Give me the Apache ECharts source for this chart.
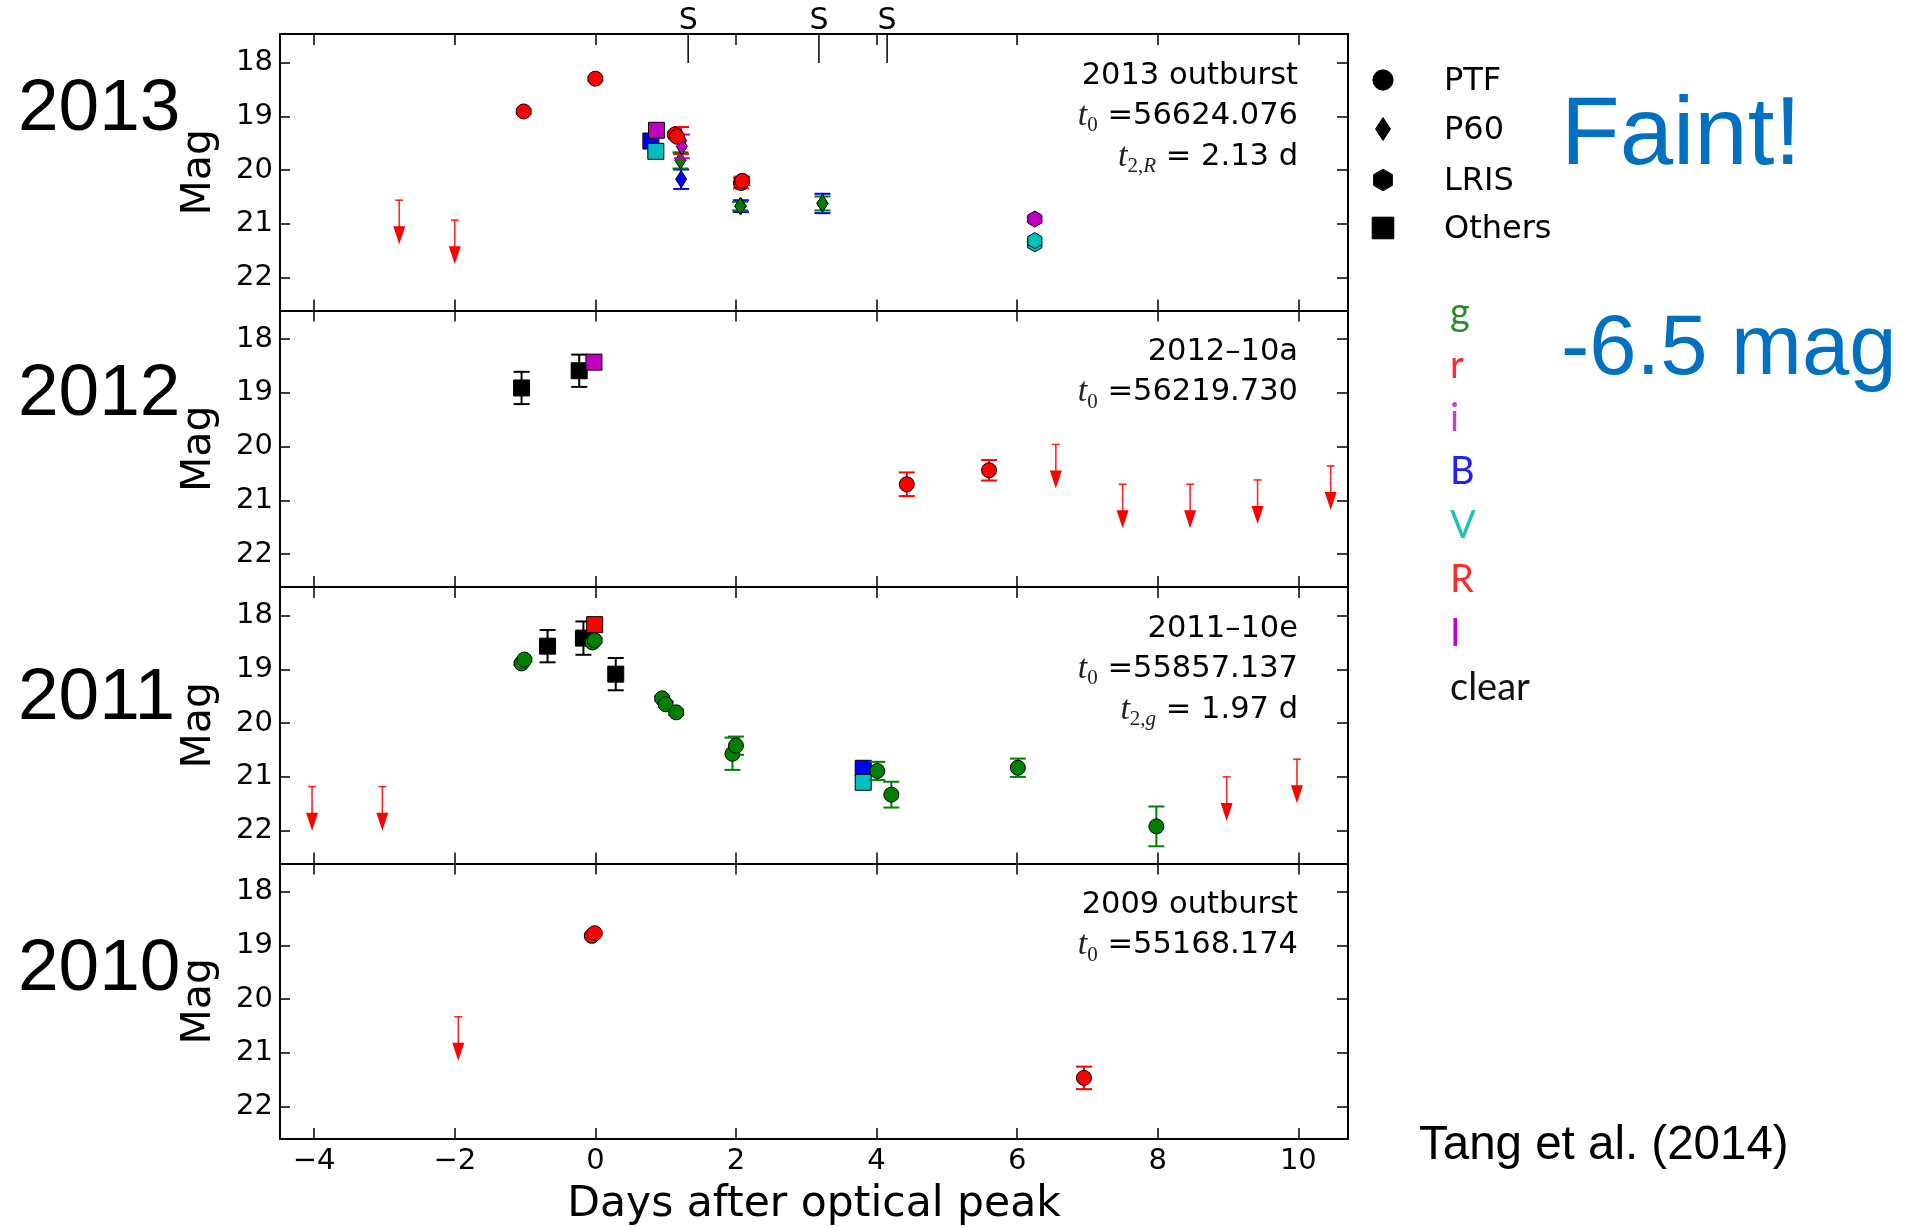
<!DOCTYPE html>
<html><head><meta charset="utf-8">
<script src="https://cdn.jsdelivr.net/npm/echarts@6/dist/echarts.min.js"></script>
<style>html,body{margin:0;padding:0;background:#fff}#c{width:1905px;height:1227px}</style>
</head><body><div id="c"></div>
<script>
// ---------------- data ----------------
const xTicks = [-4, -2, 0, 2, 4, 6, 8, 10];
const yTicks = [18, 19, 20, 21, 22];
const years = ['2013', '2012', '2011', '2010'];
const panelTitles = ['2013 outburst', '2012\u201310a', '2011\u201310e', '2009 outburst'];
const t0Values = ['56624.076', '56219.730', '55857.137', '55168.174'];
const t2Bands = ['R', null, 'g', null];
const t2Values = ['2.13', null, '1.97', null];
const sDays = [1.32, 3.18, 4.15];
const instruments = ['PTF', 'P60', 'LRIS', 'Others'];
const bandNames = ['g', 'r', 'i', 'B', 'V', 'R', 'I', 'clear'];

// [day, mag, err, band, instrument]
const pts2013 = [
  [-1.02, 18.91, 0.04, 'r', 'PTF'],
  [0.00, 18.30, 0.04, 'r', 'PTF'],
  [0.79, 19.46, 0.05, 'B', 'Others'],
  [0.86, 19.65, 0.05, 'V', 'Others'],
  [0.87, 19.26, 0.05, 'I', 'Others'],
  [1.22, 20.17, 0.18, 'B', 'P60'],
  [1.21, 19.82, 0.15, 'g', 'P60'],
  [1.22, 19.45, 0.25, 'R', 'P60'],
  [1.23, 19.56, 0.22, 'i', 'P60'],
  [1.13, 19.34, 0.04, 'r', 'PTF'],
  [1.16, 19.38, 0.04, 'r', 'PTF'],
  [2.07, 20.67, 0.11, 'B', 'P60'],
  [2.06, 20.67, 0.08, 'g', 'P60'],
  [2.07, 20.24, 0.10, 'r', 'PTF'],
  [2.09, 20.20, 0.08, 'r', 'PTF'],
  [3.23, 20.62, 0.18, 'B', 'P60'],
  [3.23, 20.62, 0.13, 'g', 'P60'],
  [6.25, 20.91, 0.03, 'i', 'LRIS'],
  [6.25, 21.37, 0.03, 'V', 'LRIS'],
  [6.25, 21.31, 0.03, 'V', 'LRIS']
];
const lim2013 = [[-2.79, 20.56], [-2.00, 20.93]];

const pts2012 = [
  [-1.05, 18.91, 0.30, 'clear', 'Others'],
  [-0.23, 18.59, 0.30, 'clear', 'Others'],
  [-0.02, 18.43, 0.00, 'I', 'Others'],
  [4.43, 20.70, 0.22, 'r', 'PTF'],
  [5.60, 20.44, 0.19, 'r', 'PTF']
];
const lim2012 = [[6.55, 19.96], [7.50, 20.70], [8.46, 20.70], [9.42, 20.62], [10.46, 20.36]];

const pts2011 = [
  [-1.05, 18.89, 0.03, 'g', 'PTF'],
  [-1.01, 18.82, 0.03, 'g', 'PTF'],
  [-0.68, 18.57, 0.30, 'clear', 'Others'],
  [-0.17, 18.42, 0.31, 'clear', 'Others'],
  [0.29, 19.09, 0.30, 'clear', 'Others'],
  [-0.01, 18.17, 0.04, 'R', 'Others'],
  [-0.04, 18.50, 0.04, 'g', 'PTF'],
  [-0.01, 18.46, 0.04, 'g', 'PTF'],
  [0.95, 19.54, 0.04, 'g', 'PTF'],
  [1.00, 19.65, 0.05, 'g', 'PTF'],
  [1.15, 19.80, 0.05, 'g', 'PTF'],
  [1.95, 20.57, 0.30, 'g', 'PTF'],
  [2.00, 20.42, 0.17, 'g', 'PTF'],
  [3.81, 20.84, 0.05, 'B', 'Others'],
  [3.81, 21.10, 0.05, 'V', 'Others'],
  [4.01, 20.89, 0.17, 'g', 'PTF'],
  [4.21, 21.33, 0.24, 'g', 'PTF'],
  [6.01, 20.83, 0.17, 'g', 'PTF'],
  [7.98, 21.92, 0.37, 'g', 'PTF']
];
const lim2011 = [[-4.03, 21.18], [-3.03, 21.18], [8.98, 21.00], [9.98, 20.67]];

const pts2009 = [
  [-0.05, 18.82, 0.03, 'r', 'PTF'],
  [-0.01, 18.77, 0.03, 'r', 'PTF'],
  [6.95, 21.47, 0.21, 'r', 'PTF']
];
const lim2009 = [[-1.95, 20.33]];

const panelPts = [pts2013, pts2012, pts2011, pts2009];
const panelLims = [lim2013, lim2012, lim2011, lim2009];

// ---------------- style ----------------
const X_MIN = -4.486, X_MAX = 10.706;
const Y_MIN = 17.47, Y_MAX = 22.61;
const LIM_LEN = 0.82;
const GRID_LEFT = 280, GRID_W = 1068, GRID_TOP = 34, GRID_H = 276.5;
const bandColor = { g: '#008000', r: '#ff0000', i: '#bf00bf', B: '#0000ff', V: '#00bfbf', R: '#ff0000', I: '#bf00bf', clear: '#000000' };
const labelColor = { g: '#2a8a2a', r: '#ff2a2a', i: '#c040d0', B: '#2020ff', V: '#20c0c0', R: '#ff2a2a', I: '#c000c0', clear: '#111111' };
const MPL = '"DejaVu Sans", sans-serif';
const ARIAL = '"Liberation Sans", Arial, sans-serif';

function markerEl(inst, cx, cy, fill, k) {
  k = k || 1;
  const style = { fill: fill, stroke: '#000', lineWidth: 1 };
  if (inst === 'PTF') return { type: 'circle', shape: { cx: cx, cy: cy, r: 7.5 * k }, style: style };
  if (inst === 'P60') return { type: 'polygon', shape: { points: [[cx, cy - 8.5 * k], [cx + 5.5 * k, cy], [cx, cy + 8.5 * k], [cx - 5.5 * k, cy]] }, style: style };
  if (inst === 'LRIS') {
    const p = [];
    for (let j = 0; j < 6; j++) { const a = (-90 + 60 * j) * Math.PI / 180; p.push([cx + 8 * k * Math.cos(a), cy + 8 * k * Math.sin(a)]); }
    return { type: 'polygon', shape: { points: p }, style: style };
  }
  return { type: 'rect', shape: { x: cx - 8 * k, y: cy - 8 * k, width: 16 * k, height: 16 * k }, style: style };
}

const grids = [], xAxes = [], yAxes = [], series = [];
const tickStyle = { color: '#000', width: 1.5 };
const lineStyle = { color: '#000', width: 2 };
for (let i = 0; i < 4; i++) {
  grids.push({ left: GRID_LEFT, width: GRID_W, top: GRID_TOP + i * GRID_H, height: GRID_H });
}
for (let i = 0; i < 4; i++) {
  xAxes.push({
    type: 'value', gridIndex: i, min: X_MIN, max: X_MAX, position: 'bottom',
    axisLine: { show: true, onZero: false, lineStyle: lineStyle },
    axisTick: { show: true, inside: true, length: 11, lineStyle: tickStyle, customValues: xTicks },
    axisLabel: { show: i === 3, customValues: xTicks, formatter: v => String(v).replace('-', '\u2212'), fontSize: 29, color: '#000', fontFamily: MPL, margin: 8 },
    splitLine: { show: false },
    name: i === 3 ? 'Days after optical peak' : '', nameLocation: 'middle', nameGap: 44,
    nameTextStyle: { fontSize: 42.5, fontFamily: MPL, color: '#000' }
  });
}
for (let i = 0; i < 4; i++) {
  xAxes.push({
    type: 'value', gridIndex: i, min: X_MIN, max: X_MAX, position: 'top',
    axisLine: { show: true, onZero: false, lineStyle: lineStyle },
    axisTick: { show: true, inside: true, length: 11, lineStyle: tickStyle, customValues: xTicks },
    axisLabel: { show: false }, splitLine: { show: false }
  });
}
for (let i = 0; i < 4; i++) {
  yAxes.push({
    type: 'value', gridIndex: i, min: Y_MIN, max: Y_MAX, inverse: true, position: 'left',
    axisLine: { show: true, onZero: false, lineStyle: lineStyle },
    axisTick: { show: true, inside: true, length: 10, lineStyle: tickStyle, customValues: yTicks },
    axisLabel: { show: true, customValues: yTicks, fontSize: 29, color: '#000', fontFamily: MPL, margin: 7 },
    splitLine: { show: false },
    name: 'Mag', nameLocation: 'middle', nameGap: 60, nameRotate: 90,
    nameTextStyle: { fontSize: 41, fontFamily: MPL, color: '#000' }
  });
}
for (let i = 0; i < 4; i++) {
  yAxes.push({
    type: 'value', gridIndex: i, min: Y_MIN, max: Y_MAX, inverse: true, position: 'right',
    axisLine: { show: true, onZero: false, lineStyle: lineStyle },
    axisTick: { show: true, inside: true, length: 11, lineStyle: tickStyle, customValues: yTicks },
    axisLabel: { show: false }, splitLine: { show: false }
  });
}

for (let i = 0; i < 4; i++) {
  const pts = panelPts[i];
  const lims = panelLims[i];
  series.push({
    type: 'custom', name: 'limits' + i, xAxisIndex: i, yAxisIndex: i,
    data: lims.map(p => [p[0], p[1]]), encode: { x: 0, y: 1 },
    renderItem: function (params, api) {
      const p = lims[params.dataIndex];
      const a = api.coord([p[0], p[1]]);
      const b = api.coord([p[0], p[1] + LIM_LEN]);
      const col = '#ff0000';
      return {
        type: 'group', children: [
          { type: 'line', shape: { x1: a[0], y1: a[1], x2: a[0], y2: b[1] - 10 }, style: { stroke: col, lineWidth: 1.6, opacity: 0.85 } },
          { type: 'line', shape: { x1: a[0] - 4, y1: a[1], x2: a[0] + 4, y2: a[1] }, style: { stroke: col, lineWidth: 1.6, opacity: 0.85 } },
          { type: 'polygon', shape: { points: [[a[0] - 6, b[1] - 18], [a[0] + 6, b[1] - 18], [a[0], b[1]]] }, style: { fill: col } }
        ]
      };
    }
  });
  series.push({
    type: 'custom', name: 'points' + i, xAxisIndex: i, yAxisIndex: i,
    data: pts.map(p => [p[0], p[1]]), encode: { x: 0, y: 1 },
    renderItem: function (params, api) {
      const p = pts[params.dataIndex];
      const c = api.coord([p[0], p[1]]);
      const col = bandColor[p[3]];
      const ch = [];
      if (p[2] > 0) {
        const a = api.coord([p[0], p[1] - p[2]]);
        const b = api.coord([p[0], p[1] + p[2]]);
        const st = { stroke: col, lineWidth: 2 };
        ch.push({ type: 'line', shape: { x1: c[0], y1: a[1], x2: c[0], y2: b[1] }, style: st });
        ch.push({ type: 'line', shape: { x1: c[0] - 8, y1: a[1], x2: c[0] + 8, y2: a[1] }, style: st });
        ch.push({ type: 'line', shape: { x1: c[0] - 8, y1: b[1], x2: c[0] + 8, y2: b[1] }, style: st });
      }
      ch.push(markerEl(p[4], c[0], c[1], col, 1));
      return { type: 'group', children: ch };
    }
  });
}
// spectra epochs ("S") on the top panel
series.push({
  type: 'custom', name: 'spectra', xAxisIndex: 0, yAxisIndex: 0,
  data: sDays.map(d => [d, Y_MIN]), encode: { x: 0, y: 1 },
  renderItem: function (params, api) {
    const c = api.coord([sDays[params.dataIndex], Y_MIN]);
    return {
      type: 'group', children: [
        { type: 'line', shape: { x1: c[0], y1: c[1], x2: c[0], y2: c[1] + 29 }, style: { stroke: '#000', lineWidth: 1.5 } },
        { type: 'text', x: c[0], y: c[1] - 13, style: { text: 'S', fill: '#000', font: '30px ' + MPL, align: 'center', verticalAlign: 'middle' } }
      ]
    };
  }
});

// ---------------- graphic texts ----------------
const graphic = [];
const rowOff = [42, 82, 123];
const richStyles = {
  it: { fontFamily: 'Liberation Serif', fontStyle: 'italic', fontSize: 34, lineHeight: 40, fill: '#222' },
  sub: { fontFamily: 'Liberation Serif', fontSize: 21, lineHeight: 24, verticalAlign: 'bottom', fill: '#222' },
  subit: { fontFamily: 'Liberation Serif', fontStyle: 'italic', fontSize: 21, lineHeight: 24, verticalAlign: 'bottom', fill: '#222' },
  n: { fontFamily: 'DejaVu Sans', fontSize: 30.5, lineHeight: 40, fill: '#000' }
};
for (let i = 0; i < 4; i++) {
  const top = GRID_TOP + i * GRID_H;
  graphic.push({ type: 'text', x: 1298, y: top + rowOff[0], style: { text: panelTitles[i], fill: '#000', font: '30.5px ' + MPL, align: 'right', verticalAlign: 'middle' } });
  graphic.push({ type: 'text', x: 1298, y: top + rowOff[1], style: { text: '{it|t}{sub|0}{n| =' + t0Values[i] + '}', rich: richStyles, align: 'right', verticalAlign: 'middle' } });
  if (t2Bands[i]) {
    graphic.push({ type: 'text', x: 1298, y: top + rowOff[2], style: { text: '{it|t}{sub|2,}{subit|' + t2Bands[i] + '}{n| = ' + t2Values[i] + ' d}', rich: richStyles, align: 'right', verticalAlign: 'middle' } });
  }
}
const yearY = [110, 395, 699, 970];
for (let i = 0; i < 4; i++) {
  graphic.push({ type: 'text', x: 18, y: yearY[i], style: { text: years[i], fill: '#000', font: '73px ' + ARIAL, align: 'left', verticalAlign: 'middle' } });
}
const legY = [82, 131, 182, 230];
for (let j = 0; j < 4; j++) {
  graphic.push(markerEl(instruments[j], 1383, legY[j] - 2, '#000', 1.35));
  graphic.push({ type: 'text', x: 1444, y: legY[j], style: { text: instruments[j], fill: '#000', font: '32px ' + MPL, align: 'left', verticalAlign: 'middle' } });
}
const bandY = [313, 366, 419, 472, 526, 580, 634, 688];
for (let j = 0; j < bandNames.length; j++) {
  graphic.push({ type: 'text', x: 1450, y: bandY[j], style: { text: bandNames[j], fill: labelColor[bandNames[j]], font: '38px Lato, "Open Sans", sans-serif', align: 'left', verticalAlign: 'middle' } });
}
graphic.push({ type: 'text', x: 1561, y: 138, style: { text: 'Faint!', fill: '#0070c0', font: '96px ' + ARIAL, align: 'left', verticalAlign: 'middle' } });
graphic.push({ type: 'text', x: 1561, y: 351, style: { text: '-6.5 mag', fill: '#0070c0', font: '85px ' + ARIAL, align: 'left', verticalAlign: 'middle' } });
graphic.push({ type: 'text', x: 1419, y: 1146, style: { text: 'Tang et al. (2014)', fill: '#000', font: '47.5px ' + ARIAL, align: 'left', verticalAlign: 'middle' } });

const chart = echarts.init(document.getElementById('c'));
chart.setOption({
  animation: false,
  backgroundColor: '#fff',
  grid: grids, xAxis: xAxes, yAxis: yAxes, series: series, graphic: graphic
});
</script></body></html>
